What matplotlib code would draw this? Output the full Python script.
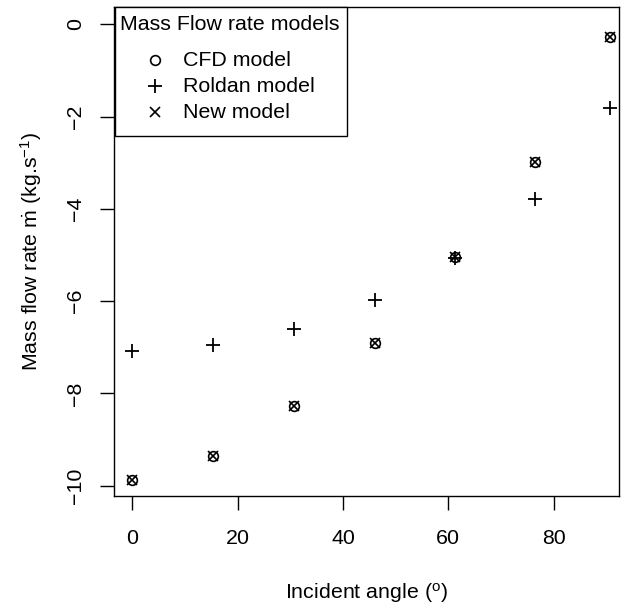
import numpy as np
import matplotlib.pyplot as plt
from matplotlib.patches import Rectangle

plt.rcParams['font.family'] = ['Liberation Sans', 'DejaVu Sans']
plt.rcParams['mathtext.fontset'] = 'custom'
plt.rcParams['mathtext.rm'] = 'Liberation Sans'
plt.rcParams['mathtext.it'] = 'Liberation Sans:italic'

# data
angle = [0, 15.3, 30.7, 46.0, 61.2, 76.5, 90.8]
cfd = [-9.87, -9.36, -8.27, -6.91, -5.05, -2.98, -0.28]
roldan = [-7.08, -6.96, -6.61, -5.97, -5.06, -3.79, -1.82]
new = [-9.87, -9.36, -8.27, -6.91, -5.05, -2.98, -0.28]

legend_title = 'Mass Flow rate models'
legend_labels = ['CFD model', 'Roldan model', 'New model']

W, H = 633, 608
fs = 15.4
fig = plt.figure(figsize=(W / 100, H / 100), dpi=100)
ax = fig.add_axes([114 / W, 1 - 495.5 / H, (619.3 - 114) / W, (495.5 - 6.7) / H])

circ = dict(marker='o', mfc='none', mec='black', ms=7, mew=1.2, ls='none')
plus = dict(marker='+', color='black', ms=10, mew=1.3, ls='none')
cross = dict(marker='x', color='black', ms=6.5, mew=1.2, ls='none')

ax.plot(angle, cfd, **circ)
ax.plot(angle, roldan, **plus)
ax.plot(angle, new, **cross)

ax.set_xlim(-3.5, 92.5)
ax.set_ylim(-10.21, 0.38)
ax.set_xticks([0, 20, 40, 60, 80])
ax.set_yticks([0, -2, -4, -6, -8, -10])
ax.tick_params(direction='out', length=10, width=1.0, labelsize=fs)
ax.tick_params(axis='x', pad=14)
ax.tick_params(axis='y', labelrotation=90, pad=11)
for lab in ax.get_yticklabels():
    lab.set_va('center')
for s in ax.spines.values():
    s.set_linewidth(1.0)

ax.set_xlabel('Incident angle ($^{\\mathrm{o}}$)', fontsize=fs, labelpad=24)
ax.set_ylabel('Mass flow rate $\\dot{\\mathrm{m}}$ (kg.s$^{-1}$)', fontsize=fs, labelpad=16)

# legend drawn by hand to follow the R layout
def fp(px, py):
    return px / W, 1 - py / H

x0, y0 = fp(115, 136)
x1, y1 = fp(347, 6.7)
fig.add_artist(Rectangle((x0, y0), x1 - x0, y1 - y0, transform=fig.transFigure,
                         fill=True, facecolor='white', edgecolor='black', lw=1.0))
tx, ty = fp(120, 24)
fig.text(tx, ty, legend_title, fontsize=fs, va='center', ha='left')
for i, (lab, st) in enumerate(zip(legend_labels, [circ, plus, cross])):
    mx, my = fp(155, 60 + 26 * i)
    fig.add_artist(plt.Line2D([mx], [my], transform=fig.transFigure, **st))
    lx, ly = fp(183, 60 + 26 * i)
    fig.text(lx, ly, lab, fontsize=fs, va='center', ha='left')

fig.savefig('out.png', dpi=100)
